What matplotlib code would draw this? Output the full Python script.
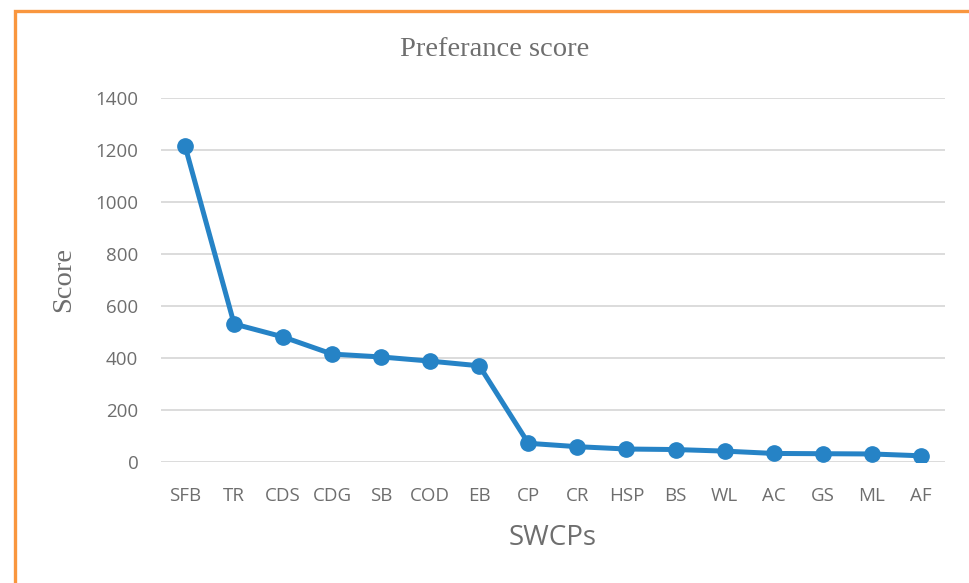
import matplotlib
matplotlib.use('Agg')
import matplotlib.pyplot as plt
from matplotlib.patches import Rectangle

# data
categories = ['SFB', 'TR', 'CDS', 'CDG', 'SB', 'COD', 'EB', 'CP',
              'CR', 'HSP', 'BS', 'WL', 'AC', 'GS', 'ML', 'AF']
scores = [1215, 531, 481, 415, 404, 388, 370, 72,
          59, 50, 48, 42, 33, 32, 31, 24]
yticks = [0, 200, 400, 600, 800, 1000, 1200, 1400]

blue = '#2683C6'
grey = '#6E6E6E'

fig = plt.figure(figsize=(9.7, 5.83), dpi=100)
ax = fig.add_axes([0.1655, 0.2075, 0.809, 0.6245])

x = range(len(categories))
ax.plot(x, scores, color=blue, linewidth=3.6, marker='o', markersize=11,
        solid_joinstyle='round', zorder=3)

ax.set_xlim(-0.5, len(categories) - 0.5)
ax.set_ylim(0, 1400)
ax.set_yticks(yticks)
ax.set_xticks(list(x))
ax.set_xticklabels(categories)
ax.grid(axis='y', color='#D9D9D9', linewidth=1.3)
ax.set_axisbelow(True)
for s in ax.spines.values():
    s.set_visible(False)
ax.tick_params(length=0, labelsize=13.5, pad=18)
ax.tick_params(axis='y', pad=16)
for lbl in ax.get_xticklabels() + ax.get_yticklabels():
    lbl.set_family('Open Sans')
    lbl.set_color(grey)

ax.set_xlabel('SWCPs', family='Open Sans', fontsize=20, color=grey, labelpad=14)
ax.set_ylabel('Score', family='Liberation Serif', fontsize=20.5, color=grey, labelpad=14)
fig.text(0.51, 0.915, 'Preferance score', family='Liberation Serif', fontsize=20.5,
         color=grey, ha='center', va='center')

# orange frame (only left and top edges fall inside the picture)
fig.patches.append(Rectangle((15.5 / 970, -0.1), 1.2, 1.1 - 11.5 / 583,
                             transform=fig.transFigure, fill=False,
                             edgecolor='#F9963E', linewidth=2.4))

fig.savefig('out.png', dpi=100)
